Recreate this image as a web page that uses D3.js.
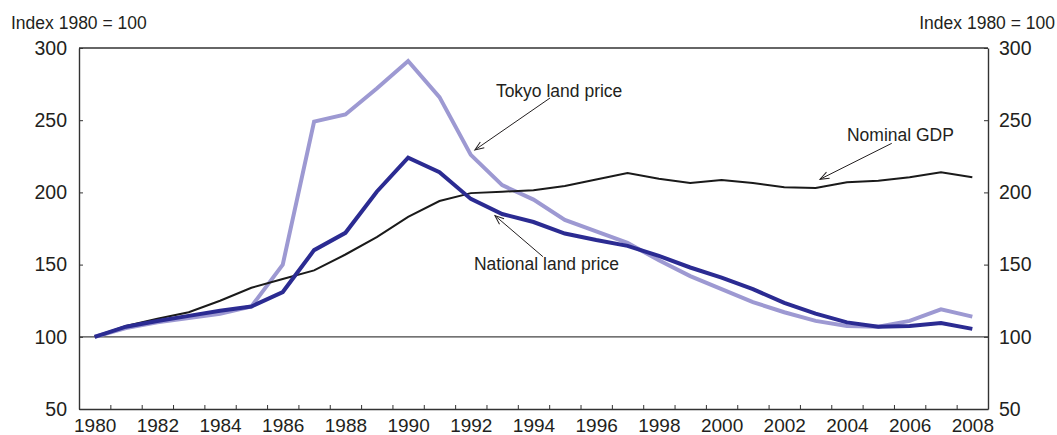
<!DOCTYPE html>
<html>
<head>
<meta charset="utf-8">
<script src="https://cdn.jsdelivr.net/npm/d3@7"></script>
<style>
  body { margin: 0; background: #fff; }
  text { font-family: "Liberation Sans", Arial, sans-serif; fill: #231f20; }
</style>
</head>
<body>
<div class="container"></div>
<script>
const years = d3.range(1980, 2009);
const tokyoLand = [100, 106, 110, 113, 116, 121, 150, 249, 254, 272, 291, 266, 226, 205, 195, 181, 173, 165, 153, 142, 133, 124, 117, 111, 107.5, 107, 111, 119, 114];
const nationalLand = [100, 107, 111, 114.5, 118, 121, 131, 160, 172, 200.5, 224, 214, 195.5, 185, 179.5, 171.5, 167, 163, 156, 148, 141, 133, 123.5, 116, 110, 107, 107.5, 109.5, 105.5];
const nominalGDP = [100, 107.5, 112.5, 117, 125, 134, 140, 146, 157, 169, 183, 194, 199.5, 200.5, 201.5, 204.5, 209, 213.5, 209.5, 206.5, 208.5, 206.5, 203.5, 203, 207, 208, 210.5, 214, 210.5];
const yTicks = [50, 100, 150, 200, 250, 300];
const yearLabels = d3.range(1980, 2009, 2);
const axisTitle = "Index 1980 = 100";

const width = 1057;
const height = 435;
const margin = { top: 48, right: 69, bottom: 26, left: 79 };

const svg = d3.select(".container").append("svg")
  .attr("width", width)
  .attr("height", height);

const x = d3.scaleLinear()
  .domain([years[0] - 0.5, years[years.length - 1] + 0.5])
  .range([margin.left, width - margin.right]);

const y = d3.scaleLinear()
  .domain([50, 300])
  .range([height - margin.bottom, margin.top]);

const axisColor = "#333";

svg.append("defs").append("marker")
  .attr("id", "arrow")
  .attr("viewBox", "-10 -5 12 10")
  .attr("markerWidth", 12)
  .attr("markerHeight", 10)
  .attr("markerUnits", "userSpaceOnUse")
  .attr("orient", "auto")
  .append("path")
  .attr("d", "M-9,-3.5L0,0L-9,3.5")
  .attr("fill", "none")
  .attr("stroke", "#231f20")
  .attr("stroke-width", 1);

// frame
svg.append("line")
  .attr("x1", x.range()[0]).attr("x2", x.range()[1])
  .attr("y1", y(300)).attr("y2", y(300))
  .attr("stroke", axisColor).attr("stroke-width", 1.4);

svg.append("line")
  .attr("x1", x.range()[0]).attr("x2", x.range()[1])
  .attr("y1", y(100)).attr("y2", y(100))
  .attr("stroke", "#444").attr("stroke-width", 1.3);

const fmtAxis = g => {
  g.select(".domain").attr("stroke", axisColor).attr("stroke-width", 1.4);
  g.selectAll(".tick line").attr("stroke", axisColor).attr("stroke-width", 1);
  g.selectAll("text").style("font-size", "19.5px").attr("fill", "#231f20");
};

svg.append("g")
  .attr("transform", `translate(${margin.left},0)`)
  .call(d3.axisLeft(y).tickValues(yTicks).tickSize(-4).tickSizeOuter(0).tickPadding(12))
  .call(fmtAxis);

svg.append("g")
  .attr("transform", `translate(${width - margin.right},0)`)
  .call(d3.axisRight(y).tickValues(yTicks).tickSize(-4).tickSizeOuter(0).tickPadding(11))
  .call(fmtAxis);

// year boundary ticks
svg.append("g")
  .attr("transform", `translate(0,${height - margin.bottom})`)
  .call(d3.axisBottom(x).tickValues(years.slice(1).map(d => d - 0.5)).tickSize(-4).tickSizeOuter(0).tickFormat(""))
  .call(fmtAxis);

// year labels
svg.append("g")
  .attr("transform", `translate(0,${height - margin.bottom})`)
  .call(d3.axisBottom(x).tickValues(yearLabels).tickSize(0).tickPadding(10).tickFormat(d3.format("d")))
  .call(fmtAxis)
  .call(g => g.selectAll("text").style("font-size", "19px"))
  .call(g => g.select(".domain").remove());

svg.append("text")
  .attr("x", 11).attr("y", 29)
  .style("font-size", "17.5px")
  .text(axisTitle);

svg.append("text")
  .attr("x", 1055).attr("y", 29)
  .attr("text-anchor", "end")
  .style("font-size", "17.5px")
  .text(axisTitle);

const line = d3.line()
  .x((d, i) => x(years[i]))
  .y(d => y(d));

svg.append("path")
  .datum(tokyoLand)
  .attr("fill", "none")
  .attr("stroke", "#9d99d2")
  .attr("stroke-width", 4)
  .attr("d", line);

svg.append("path")
  .datum(nominalGDP)
  .attr("fill", "none")
  .attr("stroke", "#1a1a1a")
  .attr("stroke-width", 2)
  .attr("d", line);

svg.append("path")
  .datum(nationalLand)
  .attr("fill", "none")
  .attr("stroke", "#2b2b92")
  .attr("stroke-width", 4)
  .attr("d", line);

// annotations (in data coordinates)
const notes = [
  { label: "Tokyo land price", tx: 1992.8, ty: 266, from: [1994.53, 265.4], to: [1992.13, 229.4] },
  { label: "Nominal GDP", tx: 2004.0, ty: 235.8, from: [2005.43, 234], to: [2003.14, 209.1] },
  { label: "National land price", tx: 1992.1, ty: 146.3, from: [1994.3, 155.5], to: [1992.77, 183.9] }
];

notes.forEach(n => {
  svg.append("line")
    .attr("x1", x(n.from[0])).attr("y1", y(n.from[1]))
    .attr("x2", x(n.to[0])).attr("y2", y(n.to[1]))
    .attr("stroke", "#231f20")
    .attr("stroke-width", 1)
    .attr("marker-end", "url(#arrow)");
  svg.append("text")
    .attr("x", x(n.tx)).attr("y", y(n.ty))
    .style("font-size", "17.5px")
    .text(n.label);
});
</script>
</body>
</html>
